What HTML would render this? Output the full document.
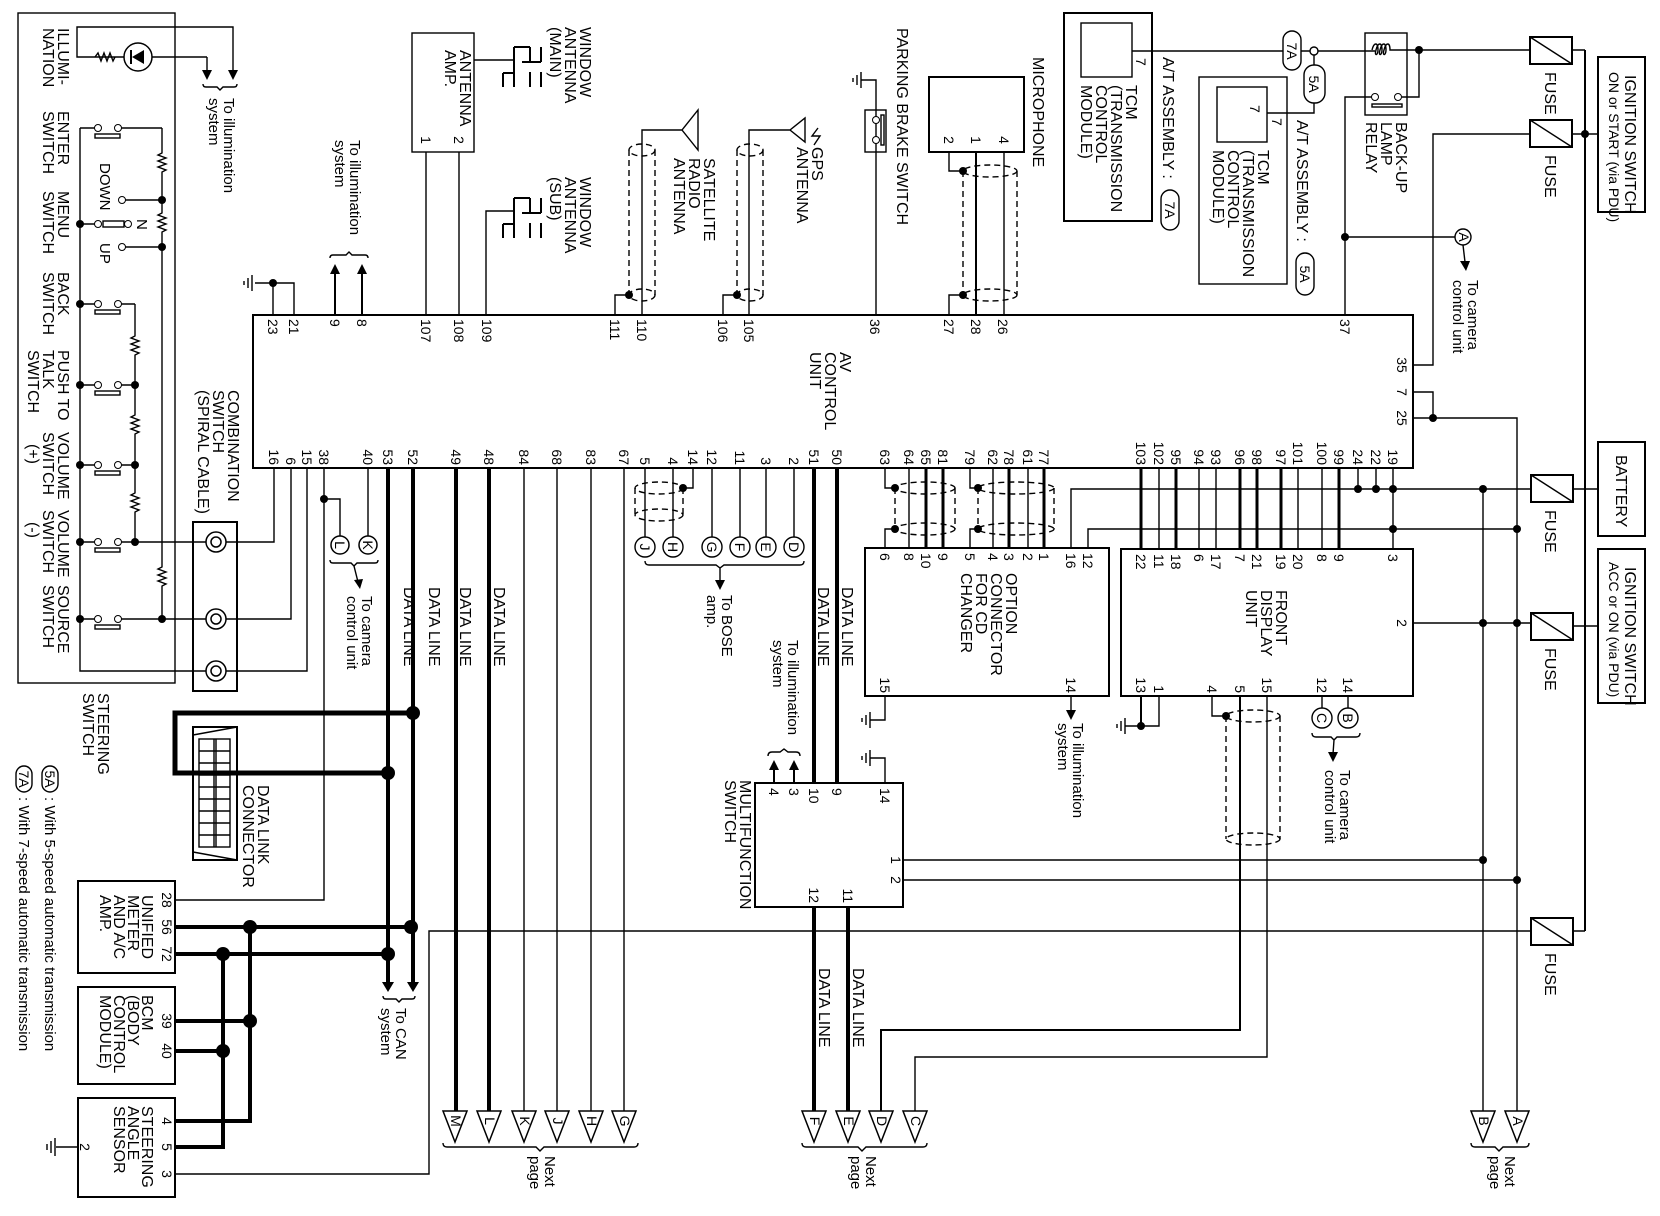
<!DOCTYPE html>
<html><head><meta charset="utf-8"><style>
html,body{margin:0;padding:0;background:#fff}
svg{display:block}
text{font-family:"Liberation Sans",sans-serif;fill:#000}
.l{font-size:16px}
.p{font-size:14px}
.s{font-size:15px}
.w{stroke:#000;stroke-width:1.4;fill:none}
.k{stroke:#000;stroke-width:4;fill:none}
.d{stroke:#000;stroke-width:1.4;fill:none;stroke-dasharray:6 4}
.b{stroke:#000;stroke-width:2;fill:none}
</style></head><body>
<svg width="1660" height="1216" viewBox="0 0 1660 1216" xmlns="http://www.w3.org/2000/svg">
<g fill="#000">
<!-- STEERING SWITCH -->
<rect x="18" y="13" width="157" height="670" class="w"/>
<path class="w" d="M207,57 H77 V27 H233 V72 M207,57 V72"/>
<path d="M202,70 h10 l-5,10z M228,70 h10 l-5,10z"/>
<path class="w" d="M95,57 l3,-4 l3,8 l3,-8 l3,8 l3,-8 l3,8 l2,-4"/>
<circle cx="138" cy="57" r="14" fill="#fff" stroke="#000" stroke-width="1.5"/>
<path d="M132,57 L144,50 L144,64z"/><path class="b" d="M131,50 V64"/>
<path class="w" d="M203,84 q0,3 3,3 h11 l3,3 l3,-3 h11 q3,0 3,-3"/>
<text class="s" transform="translate(224 98) rotate(90)">To illumination<tspan x="0" dy="15">system</tspan></text>

<text class="l" transform="translate(58 28) rotate(90)">ILLUMI-<tspan x="0" dy="15">NATION</tspan></text>
<text class="l" transform="translate(58 111) rotate(90)">ENTER<tspan x="0" dy="15">SWITCH</tspan></text>
<text class="l" transform="translate(58 191) rotate(90)">MENU<tspan x="0" dy="15">SWITCH</tspan></text>
<text class="l" transform="translate(58 272) rotate(90)">BACK<tspan x="0" dy="15">SWITCH</tspan></text>
<text class="l" transform="translate(58 350) rotate(90)">PUSH TO<tspan x="0" dy="15">TALK</tspan><tspan x="0" dy="15">SWITCH</tspan></text>
<text class="l" transform="translate(58 432) rotate(90)">VOLUME<tspan x="0" dy="15">SWITCH</tspan><tspan x="12" dy="15">(+)</tspan></text>
<text class="l" transform="translate(58 510) rotate(90)">VOLUME<tspan x="0" dy="15">SWITCH</tspan><tspan x="12" dy="15">(-)</tspan></text>
<text class="l" transform="translate(58 585) rotate(90)">SOURCE<tspan x="0" dy="15">SWITCH</tspan></text>

<path class="w" d="M80,128 V671 H206"/>
<path class="w" d="M162,128 V153 l-4,2 l8,3 l-8,3 l8,3 l-8,3 l8,3 l-4,2 V213 l-4,2 l8,3 l-8,3 l8,3 l-8,3 l8,3 l-4,2 V567 l-4,2 l8,3 l-8,3 l8,3 l-8,3 l8,3 l-4,2 V619"/>
<path class="w" d="M135,304 V336 l-4,2 l8,3 l-8,3 l8,3 l-8,3 l8,3 l-4,2 V415 l-4,2 l8,3 l-8,3 l8,3 l-8,3 l8,3 l-4,2 V493 l-4,2 l8,3 l-8,3 l8,3 l-8,3 l8,3 l-4,2 V542"/>
<path class="w" d="M80,128 H94.5 M121.5,128 H162"/><circle cx="98" cy="128" r="3.5" fill="#fff" stroke="#000"/><circle cx="118" cy="128" r="3.5" fill="#fff" stroke="#000"/><rect x="95" y="134" width="25" height="4" class="w"/>
<path class="w" d="M80,224 H94.5 M125.5,200 H162 M125.5,247 H162"/>
<circle cx="98" cy="224" r="3.5" fill="#fff" stroke="#000"/><circle cx="128" cy="224" r="3.5" fill="#fff" stroke="#000"/>
<circle cx="122" cy="200" r="3.5" fill="#fff" stroke="#000"/><circle cx="122" cy="247" r="3.5" fill="#fff" stroke="#000"/>
<rect x="103" y="221" width="21" height="6" class="w"/>
<circle cx="80" cy="224" r="4"/><circle cx="162" cy="200" r="4"/><circle cx="162" cy="247" r="4"/>
<text class="s" transform="translate(100 163) rotate(90)">DOWN</text>
<text class="s" transform="translate(137 219) rotate(90)">N</text>
<text class="s" transform="translate(100 243) rotate(90)">UP</text>
<g>
<path class="w" d="M80,304 H94.5 M121.5,304 H135"/><circle cx="98" cy="304" r="3.5" fill="#fff" stroke="#000"/><circle cx="118" cy="304" r="3.5" fill="#fff" stroke="#000"/><rect x="95" y="310" width="25" height="4" class="w"/><circle cx="80" cy="304" r="4"/>
<path class="w" d="M80,385 H94.5 M121.5,385 H135"/><circle cx="98" cy="385" r="3.5" fill="#fff" stroke="#000"/><circle cx="118" cy="385" r="3.5" fill="#fff" stroke="#000"/><rect x="95" y="391" width="25" height="4" class="w"/><circle cx="80" cy="385" r="4"/><circle cx="135" cy="385" r="4"/>
<path class="w" d="M80,465 H94.5 M121.5,465 H135"/><circle cx="98" cy="465" r="3.5" fill="#fff" stroke="#000"/><circle cx="118" cy="465" r="3.5" fill="#fff" stroke="#000"/><rect x="95" y="471" width="25" height="4" class="w"/><circle cx="80" cy="465" r="4"/><circle cx="135" cy="465" r="4"/>
<path class="w" d="M80,542 H94.5 M121.5,542 H206"/><circle cx="98" cy="542" r="3.5" fill="#fff" stroke="#000"/><circle cx="118" cy="542" r="3.5" fill="#fff" stroke="#000"/><rect x="95" y="548" width="25" height="4" class="w"/><circle cx="80" cy="542" r="4"/><circle cx="135" cy="542" r="4"/>
<path class="w" d="M80,619 H94.5 M121.5,619 H206"/><circle cx="98" cy="619" r="3.5" fill="#fff" stroke="#000"/><circle cx="118" cy="619" r="3.5" fill="#fff" stroke="#000"/><rect x="95" y="625" width="25" height="4" class="w"/><circle cx="80" cy="619" r="4"/><circle cx="162" cy="619" r="4"/>
</g>
<text class="l" transform="translate(98 693) rotate(90)">STEERING<tspan x="0" dy="15">SWITCH</tspan></text>

<text class="l" transform="translate(228 390) rotate(90)">COMBINATION<tspan x="0" dy="15">SWITCH</tspan><tspan x="0" dy="15">(SPIRAL CABLE)</tspan></text>
<rect x="193" y="522" width="44" height="169" class="b"/>
<g fill="none" stroke="#000" stroke-width="1.5">
<circle cx="216" cy="542" r="10"/><circle cx="216" cy="542" r="5"/>
<circle cx="216" cy="619" r="10"/><circle cx="216" cy="619" r="5"/>
<circle cx="216" cy="671" r="10"/><circle cx="216" cy="671" r="5"/>
</g>
<path class="w" d="M226,542 H274 V468 M226,619 H291 V468 M226,671 H307 V468"/>
<path class="w" d="M324,468 V900 H175 M324,499 H340 V536 M368,468 V536"/>
<circle cx="324" cy="499" r="4"/>
<circle cx="340" cy="545" r="9" fill="#fff" stroke="#000" stroke-width="1.5"/><circle cx="368" cy="545" r="9" fill="#fff" stroke="#000" stroke-width="1.5"/>
<text class="p" transform="translate(335 545) rotate(90)" text-anchor="middle">L</text>
<text class="p" transform="translate(363 545) rotate(90)" text-anchor="middle">K</text>
<path class="w" d="M330,560 q0,3 3,3 h18 l3,3 l3,-3 h18 q3,0 3,-3"/>
<path class="w" d="M354,566 L358,582"/><path d="M354,580 l9,-1 l-3,10z"/>
<text class="s" transform="translate(362 596) rotate(90)">To camera<tspan x="0" dy="15">control unit</tspan></text>

<path class="k" d="M388,468 V982 M413,468 V982"/>
<path d="M382,982 h12 l-6,10z M407,982 h12 l-6,10z"/>
<path class="w" d="M383,996 q0,3 3,3 h10 l3,3 l3,-3 h10 q3,0 3,-3"/>
<text class="s" transform="translate(396 1008) rotate(90)">To CAN<tspan x="0" dy="15">system</tspan></text>
<text class="l" transform="translate(404 587) rotate(90)">DATA LINE</text>
<text class="l" transform="translate(429 587) rotate(90)">DATA LINE</text>
<path stroke="#000" stroke-width="5" fill="none" d="M413,713 H175 V773 H388"/>
<circle cx="413" cy="713" r="7"/><circle cx="388" cy="773" r="7"/>
<rect x="193" y="727" width="44" height="133" class="b" fill="#fff"/>
<path class="w" d="M193,735 L237,727 M193,852 L237,860"/>
<rect x="199" y="739" width="31" height="108" class="w"/>
<path class="w" d="M214,739 V847 M216,739 V847 M199,751 H230 M199,763 H230 M199,775 H230 M199,787 H230 M199,799 H230 M199,811 H230 M199,823 H230 M199,835 H230"/>
<text class="l" transform="translate(258 785) rotate(90)">DATA LINK<tspan x="0" dy="15">CONNECTOR</tspan></text>

<rect x="78" y="881" width="97" height="92" class="b"/>
<text class="p" transform="translate(162 900) rotate(90)" text-anchor="middle">28</text>
<text class="p" transform="translate(162 927) rotate(90)" text-anchor="middle">56</text>
<text class="p" transform="translate(162 954) rotate(90)" text-anchor="middle">72</text>
<text class="l" transform="translate(142 895) rotate(90)">UNIFIED<tspan x="0" dy="14">METER</tspan><tspan x="0" dy="14">AND A/C</tspan><tspan x="0" dy="14">AMP.</tspan></text>
<path class="k" d="M175,927 H411 M175,954 H388 M250,927 V1121 H175 M223,954 V1147 H175 M175,1021 H250 M175,1051 H223"/>
<circle cx="411" cy="927" r="7"/><circle cx="250" cy="927" r="7"/><circle cx="388" cy="954" r="7"/><circle cx="223" cy="954" r="7"/>
<circle cx="250" cy="1021" r="7"/><circle cx="223" cy="1051" r="7"/>
<rect x="78" y="987" width="97" height="97" class="b"/>
<text class="p" transform="translate(162 1021) rotate(90)" text-anchor="middle">39</text>
<text class="p" transform="translate(162 1051) rotate(90)" text-anchor="middle">40</text>
<text class="l" transform="translate(142 995) rotate(90)">BCM<tspan x="0" dy="14">(BODY</tspan><tspan x="0" dy="14">CONTROL</tspan><tspan x="0" dy="14">MODULE)</tspan></text>
<rect x="78" y="1098" width="97" height="99" class="b"/>
<text class="p" transform="translate(162 1121) rotate(90)" text-anchor="middle">4</text>
<text class="p" transform="translate(162 1147) rotate(90)" text-anchor="middle">5</text>
<text class="p" transform="translate(162 1174) rotate(90)" text-anchor="middle">3</text>
<text class="p" transform="translate(80 1147) rotate(90)" text-anchor="middle">2</text>
<text class="l" transform="translate(142 1106) rotate(90)">STEERING<tspan x="0" dy="14">ANGLE</tspan><tspan x="0" dy="14">SENSOR</tspan></text>
<path class="w" d="M78,1147 H56 M55,1138 V1156 M51,1141 V1153 M47,1144 V1150"/>
<path class="w" d="M175,1174 H429 V931 H1531"/>

<rect x="42" y="766" width="16" height="26" rx="8" class="w"/>
<text class="p" transform="translate(45 779) rotate(90)" text-anchor="middle">5A</text>
<text class="s" transform="translate(45 797) rotate(90)">: With 5-speed automatic transmission</text>
<rect x="16" y="766" width="16" height="26" rx="8" class="w"/>
<text class="p" transform="translate(19 779) rotate(90)" text-anchor="middle">7A</text>
<text class="s" transform="translate(19 797) rotate(90)">: With 7-speed automatic transmission</text>

<rect x="253" y="315" width="1160" height="153" class="b"/>
<text class="l" transform="translate(840 352) rotate(90)">AV<tspan x="0" dy="15">CONTROL</tspan><tspan x="0" dy="15">UNIT</tspan></text>
<g class="p">
<text transform="translate(268 319) rotate(90)">23</text><text transform="translate(289 319) rotate(90)">21</text>
<text transform="translate(330 319) rotate(90)">9</text><text transform="translate(357 319) rotate(90)">8</text>
<text transform="translate(421 319) rotate(90)">107</text><text transform="translate(454 319) rotate(90)">108</text><text transform="translate(482 319) rotate(90)">109</text>
<text transform="translate(610 319) rotate(90)">111</text><text transform="translate(637 319) rotate(90)">110</text>
<text transform="translate(718 319) rotate(90)">106</text><text transform="translate(744 319) rotate(90)">105</text>
<text transform="translate(870 319) rotate(90)">36</text>
<text transform="translate(944 319) rotate(90)">27</text><text transform="translate(971 319) rotate(90)">28</text><text transform="translate(998 319) rotate(90)">26</text>
<text transform="translate(1340 319) rotate(90)">37</text>
<text transform="translate(1397 365) rotate(90)" text-anchor="middle">35</text>
<text transform="translate(1397 392) rotate(90)" text-anchor="middle">7</text>
<text transform="translate(1397 418) rotate(90)" text-anchor="middle">25</text>
</g>
<g class="p" text-anchor="end">
<text transform="translate(269 465) rotate(90)">16</text><text transform="translate(286 465) rotate(90)">6</text><text transform="translate(302 465) rotate(90)">15</text><text transform="translate(319 465) rotate(90)">38</text>
<text transform="translate(363 465) rotate(90)">40</text><text transform="translate(383 465) rotate(90)">53</text><text transform="translate(408 465) rotate(90)">52</text>
<text transform="translate(451 465) rotate(90)">49</text><text transform="translate(484 465) rotate(90)">48</text><text transform="translate(519 465) rotate(90)">84</text><text transform="translate(552 465) rotate(90)">68</text><text transform="translate(586 465) rotate(90)">83</text><text transform="translate(619 465) rotate(90)">67</text>
<text transform="translate(640 465) rotate(90)">5</text><text transform="translate(668 465) rotate(90)">4</text><text transform="translate(688 465) rotate(90)">14</text><text transform="translate(707 465) rotate(90)">12</text><text transform="translate(735 465) rotate(90)">11</text><text transform="translate(761 465) rotate(90)">3</text><text transform="translate(789 465) rotate(90)">2</text>
<text transform="translate(809 465) rotate(90)">51</text><text transform="translate(832 465) rotate(90)">50</text>
<text transform="translate(880 465) rotate(90)">63</text><text transform="translate(904 465) rotate(90)">64</text><text transform="translate(921 465) rotate(90)">65</text><text transform="translate(938 465) rotate(90)">81</text>
<text transform="translate(965 465) rotate(90)">79</text><text transform="translate(988 465) rotate(90)">62</text><text transform="translate(1004 465) rotate(90)">78</text><text transform="translate(1023 465) rotate(90)">61</text><text transform="translate(1039 465) rotate(90)">77</text>
<text transform="translate(1136 465) rotate(90)">103</text><text transform="translate(1154 465) rotate(90)">102</text><text transform="translate(1171 465) rotate(90)">95</text><text transform="translate(1194 465) rotate(90)">94</text><text transform="translate(1211 465) rotate(90)">93</text><text transform="translate(1235 465) rotate(90)">96</text><text transform="translate(1252 465) rotate(90)">98</text><text transform="translate(1276 465) rotate(90)">97</text><text transform="translate(1293 465) rotate(90)">101</text><text transform="translate(1317 465) rotate(90)">100</text><text transform="translate(1334 465) rotate(90)">99</text>
<text transform="translate(1353 465) rotate(90)">24</text><text transform="translate(1371 465) rotate(90)">22</text><text transform="translate(1388 465) rotate(90)">19</text>
</g>

<path class="w" d="M273,315 V283 M294,315 V283 H255 M252,275 V291 M248,278 V288 M244,281 V285"/>
<circle cx="273" cy="283" r="4"/>
<path class="b" d="M335,315 V272 M362,315 V272"/>
<path d="M330,274 h10 l-5,-10z M357,274 h10 l-5,-10z"/>
<path class="w" d="M330,258 q0,-3 3,-3 h13 l3,-3 l3,3 h13 q3,0 3,3"/>
<text class="s" transform="translate(350 140) rotate(90)">To illumination<tspan x="0" dy="15">system</tspan></text>
<rect x="412" y="33" width="62" height="119" class="w"/>
<text class="p" transform="translate(421 140) rotate(90)" text-anchor="middle">1</text>
<text class="p" transform="translate(454 140) rotate(90)" text-anchor="middle">2</text>
<text class="l" transform="translate(460 50) rotate(90)">ANTENNA<tspan x="0" dy="15">AMP.</tspan></text>
<path class="w" d="M426,152 V315 M459,152 V315 M486,315 V211 H514"/>
<path class="w" d="M474,60 H514"/>
<path class="b" d="M514,47 V87 M514,47 H530 M503,73 H514 M503,73 V87 M530,47 V62 M541,47 V62 M530,72 V87 M541,72 V87 M522,62 H541"/>
<path class="b" d="M514,198 V238 M514,198 H530 M503,224 H514 M503,224 V238 M530,198 V213 M541,198 V213 M530,223 V238 M541,223 V238 M522,213 H541"/>
<text class="l" transform="translate(580 27) rotate(90)">WINDOW<tspan x="0" dy="15">ANTENNA</tspan><tspan x="0" dy="15">(MAIN)</tspan></text>
<text class="l" transform="translate(580 177) rotate(90)">WINDOW<tspan x="0" dy="15">ANTENNA</tspan><tspan x="0" dy="15">(SUB)</tspan></text>
<path class="w" d="M615,315 V295 H628 M642,315 V130 H682 M682,130 L698,110 V150 Z"/>
<circle cx="629" cy="295" r="4"/>
<ellipse cx="642" cy="150" rx="13" ry="6" class="d"/><ellipse cx="642" cy="295" rx="13" ry="6" class="d"/>
<path class="d" d="M629,150 V295 M655,150 V295"/>
<text class="l" transform="translate(704 158) rotate(90)">SATELLITE<tspan x="0" dy="15">RADIO</tspan><tspan x="0" dy="15">ANTENNA</tspan></text>
<path class="w" d="M723,315 V295 H737 M749,315 V130 H790 M790,130 L805,118 V142 Z M818,128 l-6,8 l8,0 l-6,9"/>
<circle cx="737" cy="295" r="4"/>
<ellipse cx="750" cy="150" rx="13" ry="6" class="d"/><ellipse cx="750" cy="295" rx="13" ry="6" class="d"/>
<path class="d" d="M737,150 V295 M763,150 V295"/>
<text class="l" transform="translate(812 147) rotate(90)">GPS<tspan x="0" dy="15">ANTENNA</tspan></text>
<path class="w" d="M876,315 V80 H861 M861,72 V88 M857,75 V85 M853,78 V82"/>
<rect x="865" y="110" width="21" height="42" class="w"/>
<circle cx="876" cy="120" r="3.5" fill="#fff" stroke="#000"/><circle cx="876" cy="140" r="3.5" fill="#fff" stroke="#000"/>
<rect x="881" y="115" width="3" height="30" class="w"/>
<text class="l" transform="translate(897 28) rotate(90)">PARKING BRAKE SWITCH</text>
<rect x="929" y="77" width="95" height="75" class="b"/>
<text class="p" transform="translate(944 140) rotate(90)" text-anchor="middle">2</text>
<text class="p" transform="translate(971 140) rotate(90)" text-anchor="middle">1</text>
<text class="p" transform="translate(999 140) rotate(90)" text-anchor="middle">4</text>
<text class="l" transform="translate(1033 57) rotate(90)">MICROPHONE</text>
<path class="w" d="M949,152 V171 H963 M949,315 V295 H963 M1004,152 V315"/><path class="b" d="M976,152 V315"/>
<circle cx="963" cy="171" r="4"/><circle cx="963" cy="295" r="4"/>
<ellipse cx="990" cy="171" rx="27" ry="6" class="d"/><ellipse cx="990" cy="295" rx="27" ry="6" class="d"/>
<path class="d" d="M963,171 V295 M1017,171 V295"/>
<rect x="1064" y="13" width="88" height="208" class="b"/>
<rect x="1081" y="23" width="51" height="54" class="w"/>
<text class="p" transform="translate(1136 58) rotate(90)">7</text>
<text class="l" transform="translate(1126 85) rotate(90)">TCM<tspan x="0" dy="15">(TRANSMISSION</tspan><tspan x="0" dy="15">CONTROL</tspan><tspan x="0" dy="15">MODULE)</tspan></text>
<text class="l" transform="translate(1163 57) rotate(90)">A/T ASSEMBLY :</text>
<rect x="1161" y="190" width="18" height="40" rx="9" class="w"/>
<text class="p" transform="translate(1165 210) rotate(90)" text-anchor="middle">7A</text>
<rect x="1199" y="77" width="88" height="207" class="w"/>
<rect x="1217" y="87" width="50" height="55" class="w"/>
<text class="p" transform="translate(1250 105) rotate(90)">7</text>
<text class="p" transform="translate(1272 118) rotate(90)">7</text>
<text class="l" transform="translate(1258 150) rotate(90)">TCM<tspan x="0" dy="15">(TRANSMISSION</tspan><tspan x="0" dy="15">CONTROL</tspan><tspan x="0" dy="15">MODULE)</tspan></text>
<text class="l" transform="translate(1297 120) rotate(90)">A/T ASSEMBLY :</text>
<rect x="1296" y="253" width="18" height="42" rx="9" class="w"/>
<text class="p" transform="translate(1300 274) rotate(90)" text-anchor="middle">5A</text>
<path class="w" d="M1132,51 H1375 M1314,55 V113 H1267"/>
<rect x="1283" y="31" width="18" height="39" rx="9" fill="#fff" stroke="#000" stroke-width="1.4"/>
<text class="p" transform="translate(1287 51) rotate(90)" text-anchor="middle">7A</text>
<circle cx="1314" cy="51" r="4" fill="#fff" stroke="#000" stroke-width="1.4"/>
<rect x="1304" y="65" width="21" height="38" rx="10" fill="#fff" stroke="#000" stroke-width="1.4"/>
<text class="p" transform="translate(1309 84) rotate(90)" text-anchor="middle">5A</text>
<rect x="1365" y="33" width="42" height="82" class="w"/>
<path class="w" d="M1372,50 c2,-8 6,-8 6,0 c0,6 -4,6 -2,0 c2,-8 6,-8 6,0 c0,6 -4,6 -2,0 c2,-8 6,-8 6,0 c0,6 -4,6 -2,0 c2,-8 6,-8 6,0 H1419 V97 H1402"/>
<circle cx="1419" cy="50" r="4"/>
<circle cx="1375" cy="97" r="3.5" fill="#fff" stroke="#000"/><circle cx="1398" cy="97" r="3.5" fill="#fff" stroke="#000"/>
<rect x="1372" y="104" width="30" height="3" class="w"/>
<text class="l" transform="translate(1396 122) rotate(90)">BACK-UP<tspan x="0" dy="15">LAMP</tspan><tspan x="0" dy="15">RELAY</tspan></text>
<path class="w" d="M1419,50 H1530 M1345,315 V97 H1371.5 M1345,237 H1455"/>
<circle cx="1345" cy="237" r="4"/>
<circle cx="1463" cy="237" r="8" fill="#fff" stroke="#000" stroke-width="1.4"/>
<text class="p" transform="translate(1459 237) rotate(90)" text-anchor="middle">A</text>
<path class="w" d="M1463,245 L1465,262"/><path d="M1460,261 h10 l-4,10z"/>
<text class="s" transform="translate(1468 280) rotate(90)">To camera<tspan x="0" dy="15">control unit</tspan></text>
<g>
<rect x="1530" y="37" width="42" height="27" class="b"/><path class="w" d="M1530,37 L1572,64"/>
<rect x="1530" y="120" width="42" height="27" class="b"/><path class="w" d="M1530,120 L1572,147"/>
<rect x="1531" y="475" width="42" height="27" class="b"/><path class="w" d="M1531,475 L1573,502"/>
<rect x="1531" y="613" width="42" height="27" class="b"/><path class="w" d="M1531,613 L1573,640"/>
<rect x="1531" y="918" width="42" height="27" class="b"/><path class="w" d="M1531,918 L1573,945"/>
</g>
<g class="l">
<text transform="translate(1545 72) rotate(90)">FUSE</text>
<text transform="translate(1545 155) rotate(90)">FUSE</text>
<text transform="translate(1545 510) rotate(90)">FUSE</text>
<text transform="translate(1545 648) rotate(90)">FUSE</text>
<text transform="translate(1545 953) rotate(90)">FUSE</text>
</g>
<path class="w" d="M1572,50 H1585 M1572,134 H1598 M1573,489 H1598 M1573,626 H1598 M1573,931 H1585"/>
<path class="b" d="M1585,50 V931"/>
<circle cx="1585" cy="134" r="4"/>
<rect x="1598" y="57" width="47" height="155" class="b"/>
<text class="l" transform="translate(1625 75) rotate(90)">IGNITION SWITCH</text>
<text class="p" transform="translate(1609 72) rotate(90)">ON or START (via PDU)</text>
<rect x="1598" y="442" width="47" height="94" class="b"/>
<text class="l" transform="translate(1616 455) rotate(90)">BATTERY</text>
<rect x="1598" y="549" width="47" height="154" class="b"/>
<text class="l" transform="translate(1625 567) rotate(90)">IGNITION SWITCH</text>
<text class="p" transform="translate(1609 562) rotate(90)">ACC or ON (via PDU)</text>
<path class="w" d="M1530,134 H1433 V365 H1413 M1413,392 H1433 V418 M1413,418 H1517 V1111"/>
<circle cx="1433" cy="418" r="4"/>
<path class="w" d="M1531,489 H1071 V549 M1358,468 V489 M1376,468 V489 M1393,468 V549 M1483,489 V1111 M1088,549 V529 H1517"/>
<circle cx="1358" cy="489" r="4"/><circle cx="1376" cy="489" r="4"/><circle cx="1393" cy="489" r="4"/><circle cx="1483" cy="489" r="4"/>
<circle cx="1393" cy="529" r="4"/><circle cx="1517" cy="529" r="4"/>
<path class="w" d="M1413,623 H1531"/><circle cx="1483" cy="623" r="4"/><circle cx="1517" cy="623" r="4"/>
<path class="k" d="M456,468 V1111 M489,468 V1111 M814,468 V783 M837,468 V783 M814,907 V1111 M848,907 V1111"/>
<path class="w" d="M524,468 V1111 M557,468 V1111 M591,468 V1111 M624,468 V1111"/>
<text class="l" transform="translate(460 587) rotate(90)">DATA LINE</text>
<text class="l" transform="translate(494 587) rotate(90)">DATA LINE</text>
<text class="l" transform="translate(818 587) rotate(90)">DATA LINE</text>
<text class="l" transform="translate(842 587) rotate(90)">DATA LINE</text>
<text class="l" transform="translate(819 968) rotate(90)">DATA LINE</text>
<text class="l" transform="translate(853 968) rotate(90)">DATA LINE</text>
<path class="w" d="M645,468 V537 M673,468 V537 M693,468 V488 H683 M712,468 V537 M740,468 V537 M766,468 V537 M794,468 V537"/>
<circle cx="683" cy="488" r="4"/>
<ellipse cx="659" cy="488" rx="24" ry="6" class="d"/><ellipse cx="659" cy="515" rx="24" ry="6" class="d"/>
<path class="d" d="M635,488 V515 M683,488 V515"/>
<g fill="#fff" stroke="#000" stroke-width="1.4">
<circle cx="645" cy="547" r="10"/><circle cx="673" cy="547" r="10"/><circle cx="712" cy="547" r="10"/><circle cx="740" cy="547" r="10"/><circle cx="766" cy="547" r="10"/><circle cx="794" cy="547" r="10"/>
</g>
<g class="p" text-anchor="middle">
<text transform="translate(640 547) rotate(90)">J</text><text transform="translate(668 547) rotate(90)">H</text><text transform="translate(707 547) rotate(90)">G</text><text transform="translate(735 547) rotate(90)">F</text><text transform="translate(761 547) rotate(90)">E</text><text transform="translate(789 547) rotate(90)">D</text>
</g>
<path class="w" d="M645,561 q0,4 4,4 h67 l4,3 l4,-3 h76 q4,0 4,-4 M720,568 V582"/><path d="M715,580 h10 l-5,10z"/>
<text class="s" transform="translate(722 595) rotate(90)">To BOSE<tspan x="0" dy="15">amp.</tspan></text>

<path class="w" d="M885,468 V488 H895 M909,468 V548 M993,468 V548 M1028,468 V548 M970,468 V488 H978 M895,529 H885 V548 M978,529 H970 V548"/>
<path class="k" d="M926,468 V548 M943,468 V548 M1009,468 V548 M1044,468 V548" style="stroke-width:3"/>
<circle cx="895" cy="488" r="4"/><circle cx="895" cy="529" r="4"/><circle cx="978" cy="488" r="4"/><circle cx="978" cy="529" r="4"/>
<ellipse cx="925" cy="488" rx="30" ry="6" class="d"/><ellipse cx="925" cy="529" rx="30" ry="6" class="d"/><path class="d" d="M895,488 V529 M955,488 V529"/>
<ellipse cx="1016" cy="488" rx="38" ry="6" class="d"/><ellipse cx="1016" cy="529" rx="38" ry="6" class="d"/><path class="d" d="M978,488 V529 M1054,488 V529"/>
<rect x="865" y="548" width="244" height="148" class="b"/>
<g class="p">
<text transform="translate(880 553) rotate(90)">6</text><text transform="translate(904 553) rotate(90)">8</text><text transform="translate(921 553) rotate(90)">10</text><text transform="translate(938 553) rotate(90)">9</text><text transform="translate(965 553) rotate(90)">5</text><text transform="translate(988 553) rotate(90)">4</text><text transform="translate(1004 553) rotate(90)">3</text><text transform="translate(1023 553) rotate(90)">2</text><text transform="translate(1039 553) rotate(90)">1</text><text transform="translate(1066 553) rotate(90)">16</text><text transform="translate(1083 553) rotate(90)">12</text>
</g>
<g class="p" text-anchor="end"><text transform="translate(880 693) rotate(90)">15</text><text transform="translate(1066 693) rotate(90)">14</text></g>
<text class="l" transform="translate(1006 573) rotate(90)">OPTION<tspan x="0" dy="15">CONNECTOR</tspan><tspan x="0" dy="15">FOR CD</tspan><tspan x="0" dy="15">CHANGER</tspan></text>
<path class="w" d="M885,696 V720 H870 M870,712 V728 M866,715 V725 M862,718 V722 M1071,696 V712"/>
<path d="M1066,710 h10 l-5,10z"/>
<text class="s" transform="translate(1073 723) rotate(90)">To illumination<tspan x="0" dy="15">system</tspan></text>

<path class="k" style="stroke-width:3" d="M1141,468 V549 M1176,468 V549 M1240,468 V549 M1257,468 V549 M1281,468 V549 M1339,468 V549"/>
<path class="w" d="M1159,468 V549 M1199,468 V549 M1216,468 V549 M1298,468 V549 M1322,468 V549"/>
<rect x="1121" y="549" width="292" height="147" class="b"/>
<g class="p">
<text transform="translate(1136 554) rotate(90)">22</text><text transform="translate(1154 554) rotate(90)">11</text><text transform="translate(1171 554) rotate(90)">18</text><text transform="translate(1194 554) rotate(90)">6</text><text transform="translate(1211 554) rotate(90)">17</text><text transform="translate(1235 554) rotate(90)">7</text><text transform="translate(1252 554) rotate(90)">21</text><text transform="translate(1276 554) rotate(90)">19</text><text transform="translate(1293 554) rotate(90)">20</text><text transform="translate(1317 554) rotate(90)">8</text><text transform="translate(1334 554) rotate(90)">9</text><text transform="translate(1388 554) rotate(90)">3</text>
<text transform="translate(1397 623) rotate(90)" text-anchor="middle">2</text>
</g>
<g class="p" text-anchor="end">
<text transform="translate(1136 693) rotate(90)">13</text><text transform="translate(1154 693) rotate(90)">1</text><text transform="translate(1207 693) rotate(90)">4</text><text transform="translate(1235 693) rotate(90)">5</text><text transform="translate(1262 693) rotate(90)">15</text><text transform="translate(1317 693) rotate(90)">12</text><text transform="translate(1343 693) rotate(90)">14</text>
</g>
<text class="l" transform="translate(1276 590) rotate(90)">FRONT<tspan x="0" dy="15">DISPLAY</tspan><tspan x="0" dy="15">UNIT</tspan></text>
<path class="w" d="M1159,696 V726 H1125 M1125,718 V734 M1121,721 V731 M1117,724 V728 M1212,696 V716 H1226"/>
<path class="b" d="M1141,696 V726"/>
<circle cx="1141" cy="726" r="4"/><circle cx="1226" cy="716" r="4"/>
<path class="b" d="M1240,696 V1030 H881 V1111"/>
<path class="w" d="M1267,696 V1057 H915 V1111"/>
<ellipse cx="1253" cy="716" rx="27" ry="6" class="d"/><ellipse cx="1253" cy="839" rx="27" ry="6" class="d"/><path class="d" d="M1226,716 V839 M1280,716 V839"/>
<path class="w" d="M1322,696 V708 M1348,696 V708"/>
<circle cx="1322" cy="718" r="10" fill="#fff" stroke="#000" stroke-width="1.4"/><circle cx="1348" cy="718" r="10" fill="#fff" stroke="#000" stroke-width="1.4"/>
<text class="p" transform="translate(1317 718) rotate(90)" text-anchor="middle">C</text>
<text class="p" transform="translate(1343 718) rotate(90)" text-anchor="middle">B</text>
<path class="w" d="M1312,733 q0,4 4,4 h15 l3,3 l3,-3 h19 q4,0 4,-4 M1334,740 L1333,754"/><path d="M1328,752 h10 l-5,10z"/>
<text class="s" transform="translate(1340 770) rotate(90)">To camera<tspan x="0" dy="15">control unit</tspan></text>

<rect x="755" y="783" width="148" height="124" class="b"/>
<g class="p">
<text transform="translate(769 788) rotate(90)">4</text><text transform="translate(789 788) rotate(90)">3</text><text transform="translate(809 788) rotate(90)">10</text><text transform="translate(832 788) rotate(90)">9</text><text transform="translate(880 788) rotate(90)">14</text>
<text transform="translate(891 860) rotate(90)" text-anchor="middle">1</text><text transform="translate(891 880) rotate(90)" text-anchor="middle">2</text>
</g>
<g class="p" text-anchor="end"><text transform="translate(809 903) rotate(90)">12</text><text transform="translate(843 903) rotate(90)">11</text></g>
<text class="l" transform="translate(740 780) rotate(90)">MULTIFUNCTION<tspan x="0" dy="15">SWITCH</tspan></text>
<path class="b" d="M774,783 V768 M794,783 V768"/><path d="M769,770 h10 l-5,-10z M789,770 h10 l-5,-10z"/>
<path class="w" d="M768,756 q0,-4 4,-4 h8 l4,-3 l4,3 h8 q4,0 4,4"/>
<text class="s" transform="translate(788 640) rotate(90)">To illumination<tspan x="0" dy="15">system</tspan></text>
<path class="w" d="M885,783 V758 H870 M870,750 V766 M866,753 V763 M862,756 V760"/>
<path class="w" d="M903,860 H1483 M903,880 H1517"/>
<circle cx="1483" cy="860" r="4"/><circle cx="1517" cy="880" r="4"/>

<g fill="#fff" stroke="#000" stroke-width="1.5">
<path d="M443,1111 h24 l-12,31z"/><path d="M477,1111 h24 l-12,31z"/><path d="M512,1111 h24 l-12,31z"/><path d="M545,1111 h24 l-12,31z"/><path d="M579,1111 h24 l-12,31z"/><path d="M612,1111 h24 l-12,31z"/>
<path d="M802,1111 h24 l-12,31z"/><path d="M836,1111 h24 l-12,31z"/><path d="M869,1111 h24 l-12,31z"/><path d="M903,1111 h24 l-12,31z"/>
<path d="M1471,1111 h24 l-12,31z"/><path d="M1505,1111 h24 l-12,31z"/>
</g>
<g class="p" text-anchor="middle">
<text transform="translate(451 1121) rotate(90)">M</text><text transform="translate(485 1121) rotate(90)">L</text><text transform="translate(520 1121) rotate(90)">K</text><text transform="translate(553 1121) rotate(90)">J</text><text transform="translate(587 1121) rotate(90)">H</text><text transform="translate(620 1121) rotate(90)">G</text>
<text transform="translate(810 1121) rotate(90)">F</text><text transform="translate(844 1121) rotate(90)">E</text><text transform="translate(877 1121) rotate(90)">D</text><text transform="translate(911 1121) rotate(90)">C</text>
<text transform="translate(1479 1121) rotate(90)">B</text><text transform="translate(1513 1121) rotate(90)">A</text>
</g>
<path class="w" d="M443,1143 q0,4 4,4 h89 l4,4 l4,-4 h90 q4,0 4,-4"/>
<path class="w" d="M802,1143 q0,4 4,4 h52 l4,4 l4,-4 h57 q4,0 4,-4"/>
<path class="w" d="M1471,1143 q0,4 4,4 h20 l4,4 l4,-4 h22 q4,0 4,-4"/>
<text class="s" transform="translate(545 1156) rotate(90)">Next<tspan x="0" dy="15">page</tspan></text>
<text class="s" transform="translate(866 1156) rotate(90)">Next<tspan x="0" dy="15">page</tspan></text>
<text class="s" transform="translate(1505 1156) rotate(90)">Next<tspan x="0" dy="15">page</tspan></text>
</g>
</svg>
</body></html>
